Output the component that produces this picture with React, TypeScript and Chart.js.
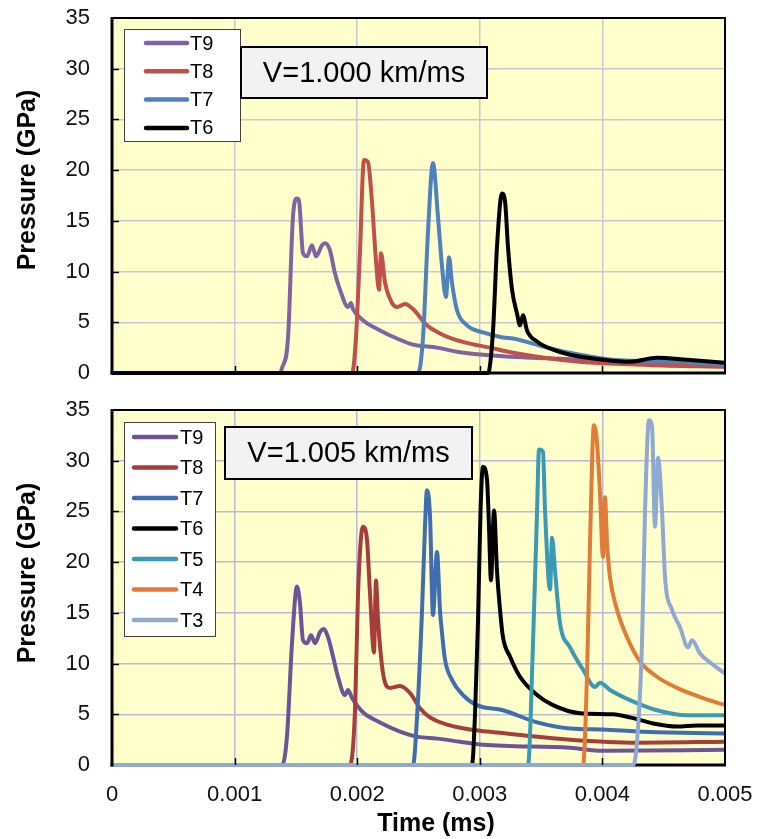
import React, { useEffect, useRef } from 'react';
import { Chart, registerables } from 'chart.js';

Chart.register(...registerables);

const FONT = '"Liberation Sans", Arial, sans-serif';

// ---- axes ----
const X_MIN = 0;
const X_MAX = 0.005;
const X_STEP = 0.001;
const Y_MIN = 0;
const Y_MAX = 35;
const Y_STEP = 5;
const X_TITLE = 'Time (ms)';
const Y_TITLE = 'Pressure (GPa)';

// ---- top panel: V = 1.000 km/ms ----
const TOP_LABEL = 'V=1.000 km/ms';
const TOP_NAMES = ['T9', 'T8', 'T7', 'T6'];
const TOP_COLORS = ['#8064A2', '#C0504D', '#4F81BD', '#000000'];

const TOP_T9_TIME = [0, 0.00137, 0.001387, 0.001436, 0.001476, 0.001509, 0.001525, 0.001558, 0.001591, 0.001631, 0.001664, 0.001713, 0.001737, 0.001778, 0.001819, 0.00186, 0.001925, 0.001949, 0.001966, 0.002047, 0.002186, 0.002325, 0.002455, 0.002651, 0.002814, 0.003026, 0.003246, 0.003654, 0.00398, 0.004388, 0.004796, 0.005];
const TOP_T9_P = [0, 0, 0.5, 3.5, 15.4, 17.2, 17.0, 11.8, 11.5, 12.6, 11.5, 12.6, 12.8, 12.1, 9.8, 8.2, 6.5, 6.9, 6.3, 5.2, 4.2, 3.4, 2.8, 2.5, 2.1, 1.8, 1.6, 1.4, 1.2, 1.1, 1.0, 0.9];

const TOP_T8_TIME = [0, 0.001958, 0.00199, 0.002023, 0.002055, 0.002088, 0.002121, 0.002153, 0.002178, 0.002194, 0.002227, 0.002284, 0.002325, 0.00239, 0.002455, 0.002569, 0.002675, 0.002773, 0.00292, 0.003083, 0.003271, 0.003817, 0.004364, 0.005];
const TOP_T8_P = [0, 0, 3.5, 12.1, 21.0, 20.8, 16.8, 11.1, 8.2, 11.8, 8.9, 6.9, 6.5, 6.8, 6.3, 4.7, 3.9, 3.4, 2.9, 2.5, 2.0, 1.1, 0.8, 0.6];

const TOP_T7_TIME = [0, 0.002496, 0.002537, 0.002577, 0.002618, 0.002659, 0.002692, 0.002724, 0.002749, 0.002773, 0.002814, 0.002896, 0.003026, 0.003189, 0.003271, 0.003548, 0.003817, 0.004086, 0.004633, 0.005];
const TOP_T7_P = [0, 0, 3.5, 13.8, 20.7, 15.4, 10.5, 7.5, 11.4, 8.9, 6.2, 4.7, 4.0, 3.5, 3.4, 2.5, 1.8, 1.3, 1.1, 0.8];

const TOP_T6_TIME = [0, 0.003067, 0.003108, 0.00314, 0.003181, 0.003206, 0.00323, 0.003263, 0.003303, 0.003328, 0.003352, 0.003385, 0.003467, 0.003597, 0.003736, 0.004005, 0.004225, 0.004445, 0.00469, 0.005];
const TOP_T6_P = [0, 0, 4.2, 12.4, 17.7, 16.9, 12.4, 8.2, 5.9, 4.7, 5.7, 4.2, 3.1, 2.3, 1.8, 1.3, 1.1, 1.5, 1.3, 1.0];

// ---- bottom panel: V = 1.005 km/ms ----
const BOT_LABEL = 'V=1.005 km/ms';
const BOT_NAMES = ['T9', 'T8', 'T7', 'T6', 'T5', 'T4', 'T3'];
const BOT_COLORS = ['#6E5398', '#A53E3B', '#3F6DAF', '#000000', '#3A99B3', '#E07C37', '#8FA9D3'];

const BOT_T9_TIME = [0, 0.001387, 0.001427, 0.001468, 0.001509, 0.001533, 0.001558, 0.001591, 0.001623, 0.001656, 0.001697, 0.001729, 0.001762, 0.001803, 0.001843, 0.0019, 0.001925, 0.001958, 0.002047, 0.002186, 0.002349, 0.002488, 0.002651, 0.002838, 0.003026, 0.003736, 0.004005, 0.005];
const BOT_T9_P = [0, 0, 2.8, 12.0, 17.6, 16.0, 12.3, 12.0, 12.8, 12.0, 13.1, 13.4, 12.6, 10.7, 8.7, 6.9, 7.4, 6.6, 5.2, 4.2, 3.3, 2.8, 2.6, 2.3, 2.0, 1.7, 1.4, 1.5];

const BOT_T8_TIME = [0, 0.001941, 0.001982, 0.002007, 0.002047, 0.00208, 0.002104, 0.002137, 0.002153, 0.00217, 0.00221, 0.002268, 0.002349, 0.002431, 0.002512, 0.002594, 0.002757, 0.00292, 0.00314, 0.003736, 0.004282, 0.005];
const BOT_T8_P = [0, 0, 5.4, 17.0, 23.5, 22.2, 17.0, 11.1, 18.2, 14.3, 9.1, 7.6, 7.8, 7.1, 5.6, 4.7, 3.9, 3.5, 3.2, 2.5, 2.2, 2.3];

const BOT_T7_TIME = [0, 0.002455, 0.002488, 0.002529, 0.002553, 0.002569, 0.002594, 0.002618, 0.002651, 0.002675, 0.002692, 0.002716, 0.002773, 0.002863, 0.002977, 0.003189, 0.003467, 0.003736, 0.004005, 0.004282, 0.004551, 0.005];
const BOT_T7_P = [0, 0, 4.7, 15.3, 23.5, 27.1, 24.5, 14.8, 21.0, 15.3, 13.0, 10.4, 8.4, 6.9, 5.9, 5.4, 4.2, 3.6, 3.5, 3.3, 3.2, 3.1];

const BOT_T6_TIME = [0, 0.002936, 0.002961, 0.002985, 0.003006, 0.003026, 0.003059, 0.003075, 0.003091, 0.003116, 0.00314, 0.003165, 0.003189, 0.003246, 0.003328, 0.003467, 0.003597, 0.003817, 0.004086, 0.004225, 0.004413, 0.004608, 0.004772, 0.005];
const BOT_T6_P = [0, 0, 5.0, 14.0, 25.1, 29.4, 28.1, 23.5, 18.2, 25.1, 19.2, 15.3, 12.6, 10.7, 8.7, 6.9, 5.9, 5.1, 5.0, 4.7, 4.1, 3.8, 3.9, 3.9];

const BOT_T5_TIME = [0, 0.003393, 0.003434, 0.003467, 0.003483, 0.003515, 0.003532, 0.003573, 0.003589, 0.003613, 0.003654, 0.003736, 0.003842, 0.00394, 0.00398, 0.004062, 0.004225, 0.004445, 0.00469, 0.005];
const BOT_T5_P = [0, 0, 12.0, 25.1, 31.1, 30.9, 25.1, 17.3, 22.4, 19.2, 14.0, 11.6, 9.4, 7.7, 8.1, 7.4, 6.4, 5.4, 4.9, 4.9];

const BOT_T4_TIME = [0, 0.003842, 0.003874, 0.003899, 0.003931, 0.003956, 0.00398, 0.004005, 0.004021, 0.004038, 0.004062, 0.004119, 0.004201, 0.004307, 0.004445, 0.004608, 0.004821, 0.005];
const BOT_T4_P = [0, 0, 8.7, 21.9, 33.5, 31.8, 26.8, 20.5, 26.4, 21.9, 18.5, 15.3, 12.6, 10.2, 8.7, 7.6, 6.6, 5.9];

const BOT_T3_TIME = [0, 0.00425, 0.004282, 0.004323, 0.004348, 0.00438, 0.004405, 0.004429, 0.004454, 0.004486, 0.004511, 0.004568, 0.004633, 0.004698, 0.004731, 0.004796, 0.004902, 0.005];
const BOT_T3_P = [0, 0, 2.2, 12.0, 25.1, 34.0, 33.3, 23.5, 30.3, 25.1, 18.5, 15.3, 13.6, 11.6, 12.3, 11.0, 9.9, 9.0];

const TOP_SERIES = [
  [TOP_T9_TIME, TOP_T9_P],
  [TOP_T8_TIME, TOP_T8_P],
  [TOP_T7_TIME, TOP_T7_P],
  [TOP_T6_TIME, TOP_T6_P],
];
const BOT_SERIES = [
  [BOT_T9_TIME, BOT_T9_P],
  [BOT_T8_TIME, BOT_T8_P],
  [BOT_T7_TIME, BOT_T7_P],
  [BOT_T6_TIME, BOT_T6_P],
  [BOT_T5_TIME, BOT_T5_P],
  [BOT_T4_TIME, BOT_T4_P],
  [BOT_T3_TIME, BOT_T3_P],
];

type Area = { left: number; top: number; right: number; bottom: number };
type PanelLayout = {
  height: number;
  area: Area;
  gridColor: string;
  showXLabels: boolean;
  legend: { x: number; y: number; w: number; h: number; first: number; step: number; lineX0: number; lineX1: number; textX: number };
  label: { x: number; y: number; w: number; h: number; text: string };
  yTitleCenter: number;
  xTitle?: { x: number; y: number };
};

function makeDecor(layout: PanelLayout, names: string[], colors: string[]) {
  return {
    id: 'decor',
    beforeDraw(chart: any) {
      const { ctx, chartArea: a } = chart;
      ctx.save();
      ctx.fillStyle = '#FFFFCC';
      ctx.fillRect(a.left, a.top, a.right - a.left, a.bottom - a.top);
      ctx.restore();
    },
    beforeDatasetsDraw(chart: any) {
      const { ctx, chartArea: a } = chart;
      ctx.save();
      ctx.strokeStyle = '#000';
      ctx.lineWidth = 3;
      ctx.beginPath();
      ctx.moveTo(a.left - 1.5, a.bottom);
      ctx.lineTo(a.right + 1, a.bottom);
      ctx.stroke();
      ctx.restore();
    },
    afterDatasetsDraw(chart: any) {
      const { ctx, chartArea: a, scales } = chart;
      ctx.save();
      // frame
      ctx.strokeStyle = '#000';
      ctx.lineWidth = 2;
      ctx.beginPath();
      ctx.moveTo(a.left, a.top);
      ctx.lineTo(a.right, a.top);
      ctx.lineTo(a.right, a.bottom);
      ctx.stroke();
      ctx.lineWidth = 3;
      ctx.beginPath();
      ctx.moveTo(a.left, a.top - 1);
      ctx.lineTo(a.left, a.bottom + 1.5);
      ctx.stroke();
      // inner tick marks
      ctx.lineWidth = 1.5;
      ctx.beginPath();
      for (let v = Y_MIN + Y_STEP; v < Y_MAX; v += Y_STEP) {
        const y = Math.round(scales.y.getPixelForValue(v)) + 0.5;
        ctx.moveTo(a.left, y);
        ctx.lineTo(a.left + 7, y);
      }
      for (let i = 1; i < Math.round((X_MAX - X_MIN) / X_STEP); i++) {
        const x = Math.round(scales.x.getPixelForValue(X_MIN + i * X_STEP)) + 0.5;
        ctx.moveTo(x, a.bottom);
        ctx.lineTo(x, a.bottom - 7);
      }
      ctx.stroke();

      // legend box
      const L = layout.legend;
      ctx.fillStyle = '#FFFFFF';
      ctx.fillRect(L.x, L.y, L.w, L.h);
      ctx.strokeStyle = '#404040';
      ctx.lineWidth = 1;
      ctx.strokeRect(L.x + 0.5, L.y + 0.5, L.w, L.h);
      ctx.font = `20px ${FONT}`;
      ctx.textAlign = 'left';
      ctx.textBaseline = 'middle';
      ctx.lineCap = 'round';
      names.forEach((n, i) => {
        const y = L.y + L.first + i * L.step;
        ctx.strokeStyle = colors[i];
        ctx.lineWidth = 4.5;
        ctx.beginPath();
        ctx.moveTo(L.lineX0, y);
        ctx.lineTo(L.lineX1, y);
        ctx.stroke();
        ctx.fillStyle = '#000';
        ctx.fillText(n, L.textX, y + 1);
      });

      // speed label box
      const B = layout.label;
      ctx.fillStyle = '#F2F2F2';
      ctx.fillRect(B.x, B.y, B.w, B.h);
      ctx.strokeStyle = '#000';
      ctx.lineWidth = 2;
      ctx.strokeRect(B.x, B.y, B.w, B.h);
      ctx.fillStyle = '#000';
      ctx.font = `29px ${FONT}`;
      ctx.textAlign = 'center';
      ctx.textBaseline = 'middle';
      ctx.fillText(B.text, B.x + B.w / 2, B.y + B.h / 2 + 1);

      // axis titles
      ctx.font = `bold 25px ${FONT}`;
      ctx.save();
      ctx.translate(28, layout.yTitleCenter);
      ctx.rotate(-Math.PI / 2);
      ctx.fillText(Y_TITLE, 0, 0);
      ctx.restore();
      if (layout.xTitle) {
        ctx.fillText(X_TITLE, layout.xTitle.x, layout.xTitle.y);
      }
      ctx.restore();
    },
  };
}

// drop the label-overflow padding that Chart.js would otherwise add around the plot
function zeroScalePadding(s: any) {
  s.paddingTop = 0;
  s.paddingBottom = 0;
  s.paddingLeft = 0;
  s.paddingRight = 0;
}

function buildConfig(layout: PanelLayout, names: string[], colors: string[], series: number[][][]) {
  const datasets = names.map((n, i) => ({
    label: n,
    data: series[i][0].map((t, k) => ({ x: t, y: series[i][1][k] })),
    borderColor: colors[i],
    backgroundColor: colors[i],
    borderWidth: 4,
    pointRadius: 0,
    cubicInterpolationMode: 'monotone',
    fill: false,
    borderCapStyle: 'round',
    borderJoinStyle: 'round',
    order: names.length - i,
    clip: { left: 0, top: 0, right: 0, bottom: 4 },
  }));
  const a = layout.area;
  return {
    type: 'line',
    data: { datasets },
    options: {
      responsive: false,
      animation: false,
      devicePixelRatio: 1,
      layout: { autoPadding: false, padding: { top: a.top, right: 758 - a.right, left: 0, bottom: 0 } },
      plugins: { legend: { display: false }, tooltip: { enabled: false }, title: { display: false } },
      scales: {
        x: {
          type: 'linear',
          min: X_MIN,
          max: X_MAX,
          afterFit: (s: any) => {
            s.height = layout.height - a.bottom;
            zeroScalePadding(s);
          },
          afterBuildTicks: (s: any) => {
            const ticks = [];
            for (let i = 0; i <= Math.round((X_MAX - X_MIN) / X_STEP); i++) ticks.push({ value: X_MIN + i * X_STEP });
            s.ticks = ticks;
          },
          grid: { color: layout.gridColor, lineWidth: 1.5, drawTicks: false },
          border: { display: false },
          ticks: {
            display: layout.showXLabels,
            padding: 17,
            color: '#111',
            font: { family: FONT, size: 22 },
            maxRotation: 0,
            autoSkip: false,
            callback: (v: number) => (v === 0 ? '0' : v.toFixed(3)),
          },
        },
        y: {
          min: Y_MIN,
          max: Y_MAX,
          afterFit: (s: any) => {
            s.width = a.left;
            zeroScalePadding(s);
          },
          grid: { color: layout.gridColor, lineWidth: 1.5, drawTicks: false },
          border: { display: false },
          ticks: {
            stepSize: Y_STEP,
            padding: 22,
            color: '#111',
            font: { family: FONT, size: 22 },
          },
        },
      },
    },
    plugins: [makeDecor(layout, names, colors)],
  };
}

const TOP_LAYOUT: PanelLayout = {
  height: 390,
  area: { left: 112, top: 18, right: 725, bottom: 373 },
  gridColor: '#C8C8D2',
  showXLabels: false,
  legend: { x: 124, y: 29, w: 116, h: 112, first: 14, step: 28.3, lineX0: 146, lineX1: 187, textX: 190 },
  label: { x: 241, y: 47, w: 246, h: 51, text: TOP_LABEL },
  yTitleCenter: 180,
};

const BOT_LAYOUT: PanelLayout = {
  height: 449,
  area: { left: 112, top: 20, right: 725, bottom: 375 },
  gridColor: '#B9B9D6',
  showXLabels: true,
  legend: { x: 124, y: 32, w: 91, h: 214, first: 15, step: 30.5, lineX0: 134, lineX1: 176, textX: 180 },
  label: { x: 225, y: 37, w: 247, h: 52, text: BOT_LABEL },
  yTitleCenter: 183,
  xTitle: { x: 436, y: 434 },
};

function Panel({ layout, names, colors, series, top }: any) {
  const ref = useRef<HTMLCanvasElement | null>(null);
  useEffect(() => {
    if (!ref.current) return;
    const chart = new Chart(ref.current, buildConfig(layout, names, colors, series) as any);
    return () => chart.destroy();
  }, []);
  return (
    <canvas
      ref={ref}
      width={758}
      height={layout.height}
      style={{ position: 'absolute', left: 0, top, width: 758, height: layout.height, display: 'block' }}
    />
  );
}

export default function App() {
  return (
    <div style={{ position: 'absolute', left: 0, top: 0, width: 758, height: 839, background: '#fff' }}>
      <Panel layout={TOP_LAYOUT} names={TOP_NAMES} colors={TOP_COLORS} series={TOP_SERIES} top={0} />
      <Panel layout={BOT_LAYOUT} names={BOT_NAMES} colors={BOT_COLORS} series={BOT_SERIES} top={390} />
    </div>
  );
}
